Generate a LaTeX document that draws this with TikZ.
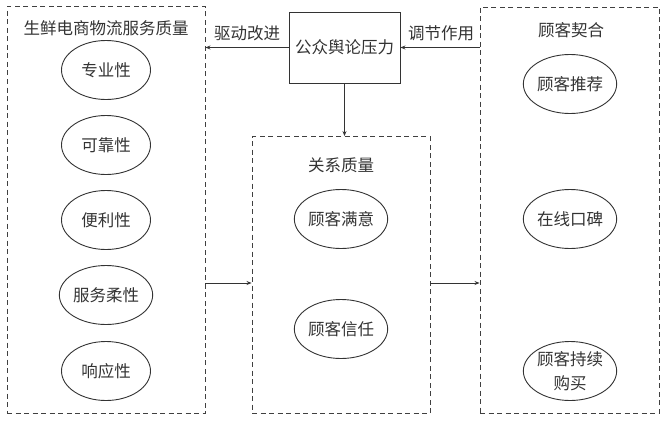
\documentclass[tikz,border=0pt]{standalone}
\usepackage{fontspec}
\setmainfont{Noto Sans CJK SC}
\usetikzlibrary{shapes.geometric,arrows.meta}
\begin{document}
\begin{tikzpicture}[x=1pt,y=-1pt,
  every node/.style={text=black!80, font=\fontsize{16.5}{24}\selectfont},
  dbox/.style={draw=black!75, line width=.9pt, dash pattern=on 5pt off 3.5pt, inner sep=0pt},
  oval/.style={draw=black!80, line width=.9pt, ellipse, minimum width=89pt, minimum height=59pt, inner sep=0pt, align=center},
  arr/.style={draw=black!80, line width=.9pt, -{Stealth[length=5pt,width=4pt]}}]
\useasboundingbox (0,0) rectangle (663,420);

% frames
\node[dbox, minimum width=198pt, minimum height=407pt] (svc) at (106,210) {};
\node[dbox, minimum width=178pt, minimum height=277pt] (rel) at (341,275) {};
\node[dbox, minimum width=179pt, minimum height=406pt] (eng) at (569.5,210) {};
\node[draw=black!80, line width=.9pt, minimum width=111pt, minimum height=71pt, inner sep=0pt] (pr) at (344.5,47.5) {公众舆论压力};

% titles
\node (svct) at (106,28) {生鲜电商物流服务质量};
\node (relt) at (341,165) {关系质量};
\node (engt) at (571,30) {顾客契合};

% ellipses
\node[oval] (s1) at (106,70) {专业性};
\node[oval] (s2) at (106,145) {可靠性};
\node[oval] (s3) at (106,220) {便利性};
\node[oval] (s4) at (106,295) {服务柔性};
\node[oval] (s5) at (106,371) {响应性};
\node[oval] (r1) at (341,219) {顾客满意};
\node[oval] (r2) at (341,329) {顾客信任};
\node[oval] (e1) at (570,84) {顾客推荐};
\node[oval] (e2) at (570,219) {在线口碑};
\node[oval] (e3) at (570,371) {顾客持续\\购买};

% arrows
\coordinate (mid) at (0,283);
\draw[arr] (pr.west) -- (pr.west -| svc.east);
\draw[arr] (pr.east -| eng.west) -- (pr.east);
\draw[arr] (pr.south) -- (pr.south |- rel.north);
\draw[arr] (svc.east |- mid) -- (rel.west |- mid);
\draw[arr] (rel.east |- mid) -- (eng.west |- mid);
\node (lab1) at (247,33) {驱动改进};
\node (lab2) at (441,33) {调节作用};
\end{tikzpicture}
\end{document}
